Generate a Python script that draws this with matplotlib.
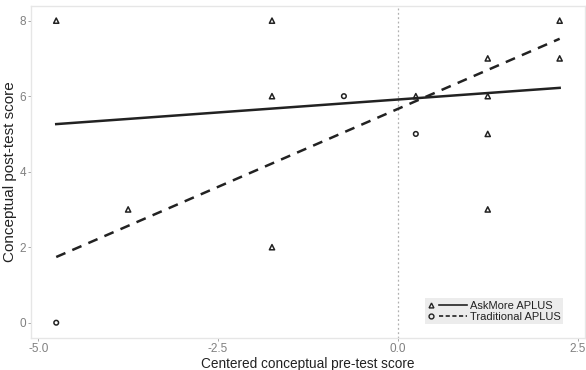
import matplotlib
matplotlib.use("Agg")
import matplotlib.pyplot as plt
from matplotlib.lines import Line2D
from matplotlib.legend_handler import HandlerBase
import numpy as np

plt.rcParams['font.family'] = ['Liberation Sans', 'DejaVu Sans']

# AskMore APLUS (triangles)
askmore_x = [-4.75, -3.75, -1.75, -1.75, -1.75, 0.25, 1.25, 1.25, 1.25, 1.25, 2.25, 2.25]
askmore_y = [8, 3, 8, 6, 2, 6, 7, 6, 5, 3, 8, 7]
# Traditional APLUS (circles)
trad_x = [-4.75, -0.75, 0.25]
trad_y = [0, 6, 5]

# fitted lines (value at x range ends)
line_x = [-4.75, 2.25]
askmore_fit = [5.26, 6.22]
trad_fit = [1.74, 7.52]

xticks = [-5.0, -2.5, 0.0, 2.5]
xticklabels = ["-5.0", "-2.5", "0.0", "2.5"]
yticks = [0, 2, 4, 6, 8]

fig = plt.figure(figsize=(5.86, 3.70), dpi=100)
ax = fig.add_axes([0.053, 0.087, 0.945, 0.898])

ax.axvline(0, color="#b0b0b0", linestyle=(0, (1.5, 2)), linewidth=0.9, zorder=1)

ax.plot(line_x, askmore_fit, color="#222222", linewidth=1.8, linestyle="-", zorder=3)
ax.plot(line_x, trad_fit, color="#222222", linewidth=1.8, linestyle=(0, (4, 3)), zorder=3)

ax.scatter(askmore_x, askmore_y, marker="^", s=14, facecolors="none",
           edgecolors="#222222", linewidths=1.1, zorder=4)
ax.scatter(trad_x, trad_y, marker="o", s=11, facecolors="none",
           edgecolors="#222222", linewidths=1.1, zorder=4)

ax.set_xlim(-5.1, 2.6)
ax.set_ylim(-0.4, 8.4)
ax.set_xticks(xticks)
ax.set_xticklabels(xticklabels)
ax.set_yticks(yticks)
ax.tick_params(axis="both", colors="#999999", labelcolor="#808080", labelsize=8.5,
               length=2, width=0.6, pad=1.5)
for sp in ax.spines.values():
    sp.set_color("#e6e6e6")
    sp.set_linewidth(1.0)

ax.set_xlabel("Centered conceptual pre-test score", fontsize=9.8, color="#222222", labelpad=2)
ax.set_ylabel("Conceptual post-test score", fontsize=11, color="#222222", labelpad=2)


class MarkerLineHandler(HandlerBase):
    def __init__(self, marker, ls):
        super().__init__()
        self.marker = marker
        self.ls = ls

    def create_artists(self, legend, orig_handle, xdescent, ydescent, width, height, fontsize, trans):
        y = height / 2 - ydescent
        m = Line2D([-xdescent + 3], [y], marker=self.marker, markersize=3.5, markerfacecolor="none",
                   markeredgecolor="#222222", markeredgewidth=1.0, linestyle="none", transform=trans)
        l = Line2D([-xdescent + 9, -xdescent + width], [y, y], color="#222222", linewidth=1.2,
                   linestyle=self.ls, transform=trans)
        return [m, l]


h1 = Line2D([], [])
h2 = Line2D([], [])
leg = ax.legend([h1, h2], ["AskMore APLUS", "Traditional APLUS"],
                handler_map={h1: MarkerLineHandler("^", "-"), h2: MarkerLineHandler("o", (0, (2.5, 1.5)))},
                loc="lower right", bbox_to_anchor=(0.965, 0.035), fontsize=8, frameon=True,
                fancybox=False, handlelength=3.6, handletextpad=0.3, borderpad=0.2,
                labelspacing=0.1, borderaxespad=0.2)
leg.get_frame().set_facecolor("#e8e8e8")
leg.get_frame().set_edgecolor("none")
for t in leg.get_texts():
    t.set_color("#222222")

fig.savefig("out.png", dpi=100)
